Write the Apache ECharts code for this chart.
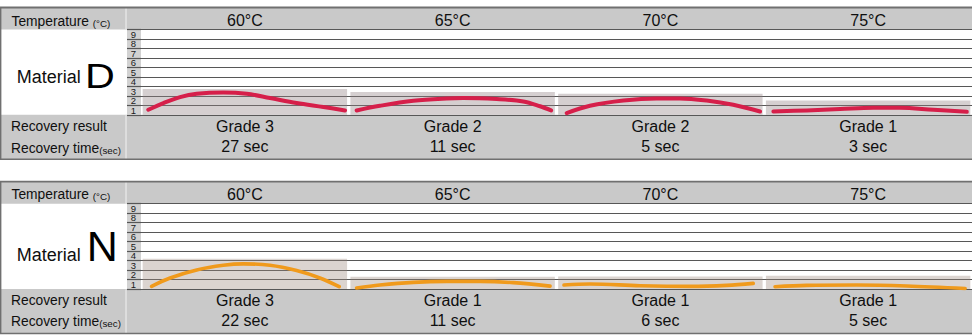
<!DOCTYPE html>
<html>
<head>
<meta charset="utf-8">
<script src="https://cdn.jsdelivr.net/npm/echarts@6/dist/echarts.min.js"></script>
<style>
html,body{margin:0;padding:0;background:#ffffff;}
#chart{width:972px;height:335px;}
</style>
</head>
<body>
<div id="chart"></div>
<script>
// ---------------- data ----------------
const temperatures = ['60°C', '65°C', '70°C', '75°C'];
const gradeTicks = ['1', '2', '3', '4', '5', '6', '7', '8', '9'];

const materialDGrades = ['Grade 3', 'Grade 2', 'Grade 2', 'Grade 1'];
const materialDTimes = ['27 sec', '11 sec', '5 sec', '3 sec'];
const materialDBands = [2.72, 2.40, 2.22, 1.51];
// curve samples: [position within column 0..1, height in grade units]
const materialDCurve60 = [[0.035,0.53],[0.108,1.24],[0.188,1.87],[0.268,2.22],[0.396,2.36],[0.509,2.22],[0.621,1.77],[0.749,1.24],[0.878,0.82],[0.982,0.46]];
const materialDCurve65 = [[0.038,0.46],[0.150,0.95],[0.311,1.48],[0.471,1.73],[0.551,1.77],[0.712,1.66],[0.840,1.41],[0.921,0.90],[0.974,0.46]];
const materialDCurve70 = [[0.049,0.18],[0.161,0.95],[0.322,1.51],[0.482,1.73],[0.594,1.73],[0.723,1.51],[0.851,1.06],[0.980,0.35]];
const materialDCurve75 = [[0.044,0.35],[0.204,0.46],[0.365,0.60],[0.525,0.74],[0.653,0.74],[0.814,0.53],[0.975,0.32]];

const materialNGrades = ['Grade 3', 'Grade 1', 'Grade 1', 'Grade 1'];
const materialNTimes = ['22 sec', '11 sec', '6 sec', '5 sec'];
const materialNBands = [3.18, 1.30, 1.33, 1.41];
const materialNCurve60 = [[0.051,0.28],[0.140,1.16],[0.268,2.01],[0.396,2.50],[0.493,2.65],[0.621,2.50],[0.749,1.94],[0.861,1.16],[0.954,0.24]];
const materialNCurve65 = [[0.038,0.11],[0.150,0.42],[0.311,0.70],[0.471,0.80],[0.632,0.80],[0.792,0.67],[0.969,0.30]];
const materialNCurve70 = [[0.036,0.42],[0.161,0.53],[0.402,0.35],[0.642,0.28],[0.819,0.38],[0.947,0.59]];
const materialNCurve75 = [[0.052,0.24],[0.204,0.38],[0.445,0.42],[0.686,0.32],[0.967,0.06]];

// ---------------- layout / style ----------------
const FONT = '"Liberation Sans", Arial, Helvetica, sans-serif';
const W = 972;
const HEADER = 22, PLOT = 85.3, ROWS = 44.5;
const panels = [
  { letter: 'D', top: 7.5, grades: materialDGrades, times: materialDTimes, bands: materialDBands,
    curves: [materialDCurve60, materialDCurve65, materialDCurve70, materialDCurve75],
    color: '#d61f4a', bandColor: 'rgba(145,128,132,0.38)', lineWidth: 4,
    txt: { temp: 21.8, material: 77.2, letter: 75.8, letterSize: 35, letterScaleX: 1.18, letterX: 85, result: 126.5, time: 148.3 } },
  { letter: 'N', top: 181.7, grades: materialNGrades, times: materialNTimes, bands: materialNBands,
    curves: [materialNCurve60, materialNCurve65, materialNCurve70, materialNCurve75],
    color: '#f09a1c', bandColor: 'rgba(155,136,124,0.36)', lineWidth: 3.6,
    txt: { temp: 194.6, material: 254.6, letter: 246.4, letterSize: 43, letterScaleX: 1.0, letterX: 86.7, result: 300, time: 321.7 } }
];

const grid = [], xAxis = [], yAxis = [], series = [], graphic = [];
const GRAY = '#c9c9c9', LINE = '#575757', BORDER = '#707070', TEXT = '#0f0f0f';

panels.forEach((p, k) => {
  const plotTop = p.top + HEADER;
  const plotBottom = plotTop + PLOT;
  const gLabel = grid.length;
  grid.push({ left: 127, width: 14, top: plotTop, height: PLOT, show: true, backgroundColor: '#d2d2d2', borderWidth: 0 });
  const gMain = grid.length;
  grid.push({ left: 141, right: 0, top: plotTop, height: PLOT, show: false });

  // label grid axes
  xAxis.push({ gridIndex: gLabel, type: 'value', show: false, min: 0, max: 1 });
  yAxis.push({ gridIndex: gLabel, type: 'category', data: gradeTicks, boundaryGap: true,
    axisLine: { show: false }, axisTick: { show: false },
    axisLabel: { inside: true, margin: 6.5, align: 'center', fontSize: 9.5, color: '#1a1a1a', fontFamily: FONT, interval: 0 },
    splitLine: { show: true, interval: 0, lineStyle: { color: LINE, width: 1.2 } } });

  // main grid axes
  const xTop = xAxis.length;
  xAxis.push({ gridIndex: gMain, type: 'category', position: 'top', data: temperatures,
    axisLine: { show: false }, axisTick: { show: false }, splitLine: { show: false },
    axisLabel: { interval: 0, margin: 9.5, verticalAlign: 'middle', fontSize: 16, color: TEXT, fontFamily: FONT } });
  xAxis.push({ gridIndex: gMain, type: 'category', position: 'bottom',
    data: p.grades.map((g, i) => g + '\n' + p.times[i]),
    axisLine: { show: false }, axisTick: { show: false }, splitLine: { show: false },
    axisLabel: { interval: 0, margin: 21.7, verticalAlign: 'middle', lineHeight: 20, fontSize: 16, color: TEXT, fontFamily: FONT } });
  const xVal = xAxis.length;
  xAxis.push({ gridIndex: gMain, type: 'value', min: 0, max: temperatures.length, show: false });
  const yMain = yAxis.length;
  yAxis.push({ gridIndex: gMain, type: 'value', min: 0, max: gradeTicks.length, interval: 1,
    axisLine: { show: false }, axisTick: { show: false }, axisLabel: { show: false },
    splitLine: { show: true, lineStyle: { color: LINE, width: 1.2 } } });

  series.push({ type: 'bar', xAxisIndex: xTop, yAxisIndex: yMain, data: p.bands, barWidth: '98.4%',
    itemStyle: { color: p.bandColor }, silent: true, z: 2 });
  p.curves.forEach((c, i) => {
    series.push({ type: 'line', xAxisIndex: xVal, yAxisIndex: yMain, z: 3,
      data: c.map(([t, v]) => [i + t, v]), smooth: 0.35, symbol: 'none', silent: true,
      lineStyle: { color: p.color, width: p.lineWidth, cap: 'round', join: 'round' } });
  });

  // table decoration
  const T = p.top;
  const bottom = plotBottom + ROWS;
  graphic.push(
    { type: 'rect', z: -10, shape: { x: 0, y: T, width: W, height: HEADER }, style: { fill: GRAY } },
    { type: 'rect', z: -10, shape: { x: 0, y: plotBottom, width: W, height: ROWS }, style: { fill: GRAY } },
    { type: 'line', z: 5, shape: { x1: 126, y1: T, x2: 126, y2: plotTop }, style: { stroke: '#ececec', lineWidth: 1.2 } },
    { type: 'line', z: 5, shape: { x1: 126, y1: plotBottom + 0.5, x2: 126, y2: bottom }, style: { stroke: '#ececec', lineWidth: 1.2 } },
    { type: 'line', z: 6, shape: { x1: 0, y1: T, x2: W, y2: T }, style: { stroke: BORDER, lineWidth: 1.8 } },
    { type: 'line', z: 6, shape: { x1: 0, y1: bottom, x2: W, y2: bottom }, style: { stroke: BORDER, lineWidth: 1.6 } },
    { type: 'line', z: 6, shape: { x1: 0.7, y1: T, x2: 0.7, y2: bottom }, style: { stroke: BORDER, lineWidth: 1.4 } },
    { type: 'text', z: 7, x: 11.5, y: p.txt.temp, style: {
        text: '{a|Temperature }{b|(°C)}', align: 'left', verticalAlign: 'middle', fill: TEXT,
        rich: { a: { fontSize: 13.8, fontFamily: FONT, verticalAlign: 'bottom', fill: TEXT },
                b: { fontSize: 9.8, fontFamily: FONT, verticalAlign: 'bottom', fill: TEXT } } } },
    { type: 'text', z: 7, x: 16.7, y: p.txt.material, style: {
        text: 'Material', fontSize: 18, fontFamily: FONT, fill: TEXT, align: 'left', verticalAlign: 'middle' } },
    { type: 'text', z: 7, x: p.txt.letterX, y: p.txt.letter, scaleX: p.txt.letterScaleX, style: {
        text: p.letter, fontSize: p.txt.letterSize, fontFamily: FONT, fill: '#000', align: 'left', verticalAlign: 'middle' } },
    { type: 'text', z: 7, x: 11, y: p.txt.result, style: {
        text: 'Recovery result', fontSize: 13.8, fontFamily: FONT, fill: TEXT, align: 'left', verticalAlign: 'middle' } },
    { type: 'text', z: 7, x: 11, y: p.txt.time, style: {
        text: '{a|Recovery time}{b|(sec)}', align: 'left', verticalAlign: 'middle', fill: TEXT,
        rich: { a: { fontSize: 13.8, fontFamily: FONT, verticalAlign: 'bottom', fill: TEXT },
                b: { fontSize: 9.8, fontFamily: FONT, verticalAlign: 'bottom', fill: TEXT } } } }
  );
});

const chart = echarts.init(document.getElementById('chart'), null, { renderer: 'svg' });
chart.setOption({
  backgroundColor: '#ffffff',
  animation: false,
  grid, xAxis, yAxis, series,
  graphic: { elements: graphic }
});
</script>
</body>
</html>
